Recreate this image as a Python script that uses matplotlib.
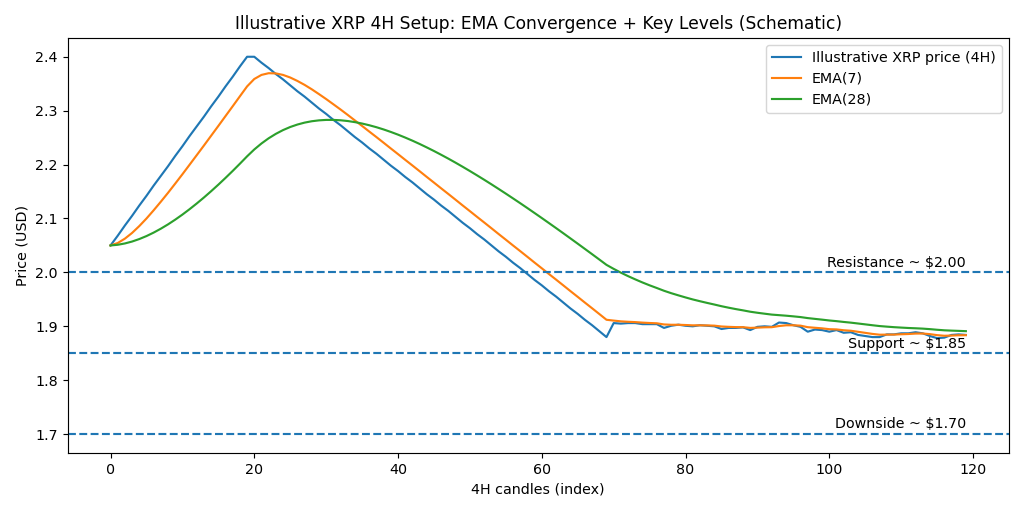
import numpy as np
import pandas as pd
import matplotlib.pyplot as plt

# illustrative 4H closes
price = [
    2.050, 2.068, 2.087, 2.105, 2.124, 2.142, 2.161, 2.179, 2.197, 2.216,
    2.234, 2.253, 2.271, 2.289, 2.308, 2.326, 2.345, 2.363, 2.382, 2.400,
    2.400, 2.389, 2.379, 2.368, 2.358, 2.347, 2.336, 2.326, 2.315, 2.304,
    2.294, 2.283, 2.273, 2.262, 2.251, 2.241, 2.230, 2.220, 2.209, 2.198,
    2.188, 2.177, 2.167, 2.156, 2.145, 2.135, 2.124, 2.114, 2.103, 2.092,
    2.082, 2.071, 2.061, 2.050, 2.039, 2.029, 2.018, 2.008, 1.997, 1.986,
    1.976, 1.965, 1.955, 1.944, 1.933, 1.923, 1.912, 1.902, 1.891, 1.880,
    1.906, 1.905, 1.906, 1.906, 1.904, 1.904, 1.904, 1.897, 1.901, 1.903,
    1.901, 1.900, 1.902, 1.901, 1.900, 1.895, 1.897, 1.897, 1.898, 1.893,
    1.899, 1.900, 1.899, 1.907, 1.906, 1.902, 1.899, 1.890, 1.894, 1.893,
    1.890, 1.893, 1.888, 1.889, 1.884, 1.882, 1.880, 1.880, 1.885, 1.885,
    1.887, 1.887, 1.889, 1.887, 1.882, 1.878, 1.879, 1.884, 1.885, 1.884,
]

levels = [2.00, 1.85, 1.70]
level_labels = ["Resistance ~ $2.00", "Support ~ $1.85", "Downside ~ $1.70"]

s = pd.Series(price)
ema7 = s.ewm(span=7, adjust=False).mean()
ema28 = s.ewm(span=28, adjust=False).mean()
idx = np.arange(len(price))

fig, ax = plt.subplots(figsize=(10, 5), dpi=102.4)
ax.plot(idx, price, label="Illustrative XRP price (4H)")
ax.plot(idx, ema7, label="EMA(7)")
ax.plot(idx, ema28, label="EMA(28)")

for lvl, txt in zip(levels, level_labels):
    ax.axhline(lvl, linestyle="--")
    ax.text(idx[-1], lvl + 0.005, txt, ha="right", va="bottom")

ax.set_title("Illustrative XRP 4H Setup: EMA Convergence + Key Levels (Schematic)")
ax.set_xlabel("4H candles (index)")
ax.set_ylabel("Price (USD)")
ax.legend(loc="upper right")
fig.tight_layout()
fig.savefig("out.png")
